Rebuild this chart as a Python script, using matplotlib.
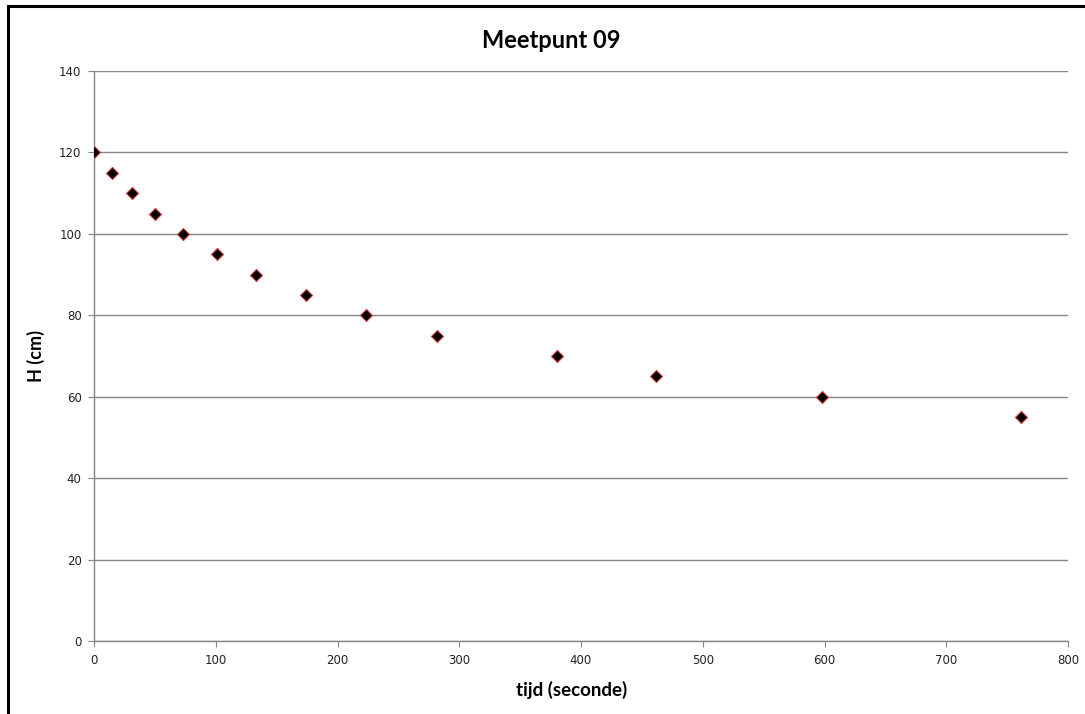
import matplotlib
matplotlib.use('Agg')
from matplotlib import pyplot as plt
from matplotlib.patches import Rectangle

tijd = [0, 15, 31, 50, 73, 101, 133, 174, 223, 282, 380, 462, 598, 761]
hoogte = [120, 115, 110, 105, 100, 95, 90, 85, 80, 75, 70, 65, 60, 55]
x_ticks = [0, 100, 200, 300, 400, 500, 600, 700, 800]
y_ticks = [0, 20, 40, 60, 80, 100, 120, 140]

grey = '#868686'

fig = plt.figure(figsize=(10.85, 7.14), dpi=100)
ax = fig.add_axes([94 / 1085, 73 / 714, 974 / 1085, 570 / 714])

ax.scatter(tijd, hoogte, marker='D', s=38, facecolor='black',
           edgecolor='#d04040', linewidths=0.8, zorder=3)

ax.set_xlim(0, 800)
ax.set_ylim(0, 140)
ax.set_xticks(x_ticks)
ax.set_yticks(y_ticks)
ax.grid(axis='y', color=grey, linewidth=1)
ax.set_axisbelow(True)

for side in ['top', 'right']:
    ax.spines[side].set_visible(False)
for side in ['left', 'bottom']:
    ax.spines[side].set_color(grey)
    ax.spines[side].set_linewidth(1)

ax.tick_params(direction='out', length=4, color=grey, labelsize=8.5,
               labelcolor='#222222', pad=5)
for lab in ax.get_xticklabels() + ax.get_yticklabels():
    lab.set_family('DejaVu Sans')

ax.set_xlabel('tijd (seconde)', fontsize=13.5, fontweight='bold', family='Lato', labelpad=5)
ax.xaxis.set_label_coords((572 - 94) / 974, -0.07)
ax.set_ylabel('H (cm)', fontsize=13, fontweight='bold', family='Lato', labelpad=10)
fig.text(551 / 1085, 1 - 40 / 714, 'Meetpunt 09', fontsize=17, fontweight='bold',
         family='Lato', ha='center', va='center')

# chart border (cut off on the right and bottom in the original)
fig.patches.append(Rectangle((8 / 1085, -0.05), 1.1, 1 - 6 / 714 + 0.05,
                             transform=fig.transFigure, fill=False,
                             edgecolor='black', linewidth=2.2))

fig.savefig('out.png', dpi=100)
